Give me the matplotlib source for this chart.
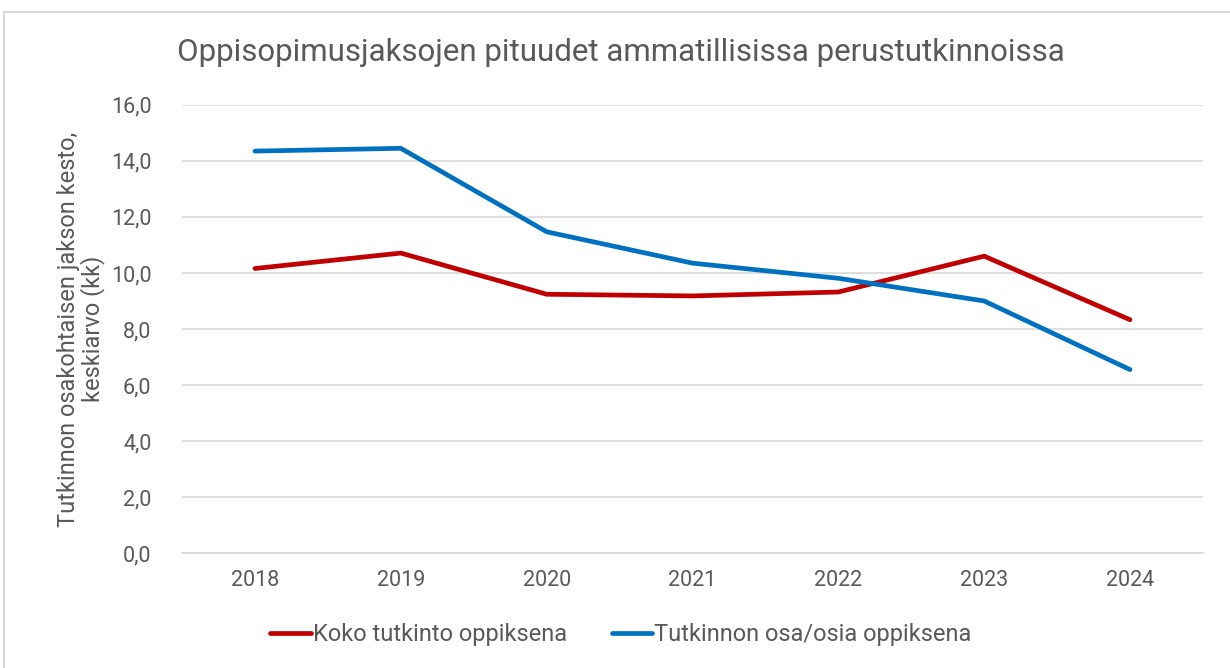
import matplotlib.pyplot as plt
from matplotlib.patches import Rectangle

plt.rcParams['font.family'] = ['Roboto', 'DejaVu Sans']

# Data
years = ['2018', '2019', '2020', '2021', '2022', '2023', '2024']
koko_tutkinto = [10.16, 10.71, 9.24, 9.18, 9.32, 10.60, 8.33]
tutkinnon_osa = [14.35, 14.45, 11.47, 10.35, 9.81, 9.00, 6.55]
y_ticks = [0, 2, 4, 6, 8, 10, 12, 14, 16]

text_color = '#595959'
grid_color = '#d9d9d9'

fig = plt.figure(figsize=(12.3, 6.68), dpi=100)
ax = fig.add_axes([0.148, 0.172, 0.830, 0.671])

x = range(len(years))
ax.plot(x, koko_tutkinto, color='#c00000', lw=3.4, solid_capstyle='round',
        solid_joinstyle='round', label='Koko tutkinto oppiksena', zorder=3)
ax.plot(x, tutkinnon_osa, color='#0070c0', lw=3.4, solid_capstyle='round',
        solid_joinstyle='round', label='Tutkinnon osa/osia oppiksena', zorder=3)

ax.set_xlim(-0.5, len(years) - 0.5)
ax.set_ylim(0, 16)
ax.set_xticks(list(x))
ax.set_xticklabels(years)
ax.set_yticks(y_ticks)
ax.set_yticklabels([f'{v:.1f}'.replace('.', ',') for v in y_ticks])
ax.tick_params(axis='both', length=0, labelsize=15.5, colors=text_color)
ax.tick_params(axis='x', pad=12)
ax.tick_params(axis='y', pad=22)

ax.grid(axis='y', color=grid_color, lw=1.2)
ax.set_axisbelow(True)
for side in ['top', 'right', 'left']:
    ax.spines[side].set_visible(False)
ax.spines['bottom'].set_color(grid_color)
ax.spines['bottom'].set_linewidth(1.2)

ax.set_ylabel('Tutkinnon osakohtaisen jakson kesto,\nkeskiarvo (kk)',
              fontsize=17, color=text_color, labelpad=4, linespacing=1.0)

fig.text(0.505, 0.922, 'Oppisopimusjaksojen pituudet ammatillisissa perustutkinnoissa',
         ha='center', va='center', fontsize=22.5, color=text_color)

leg = fig.legend(loc='center', bbox_to_anchor=(0.505, 0.05), ncol=2, frameon=False,
                 fontsize=17, handlelength=1.7, handletextpad=0.1, columnspacing=1.9)
for t in leg.get_texts():
    t.set_color(text_color)

fig.patches.append(Rectangle((0.003, -0.01), 1.2, 0.992, transform=fig.transFigure,
                             fill=False, edgecolor='#d0d0d0', lw=1.2))

fig.savefig('out.png', dpi=100, facecolor='white')
